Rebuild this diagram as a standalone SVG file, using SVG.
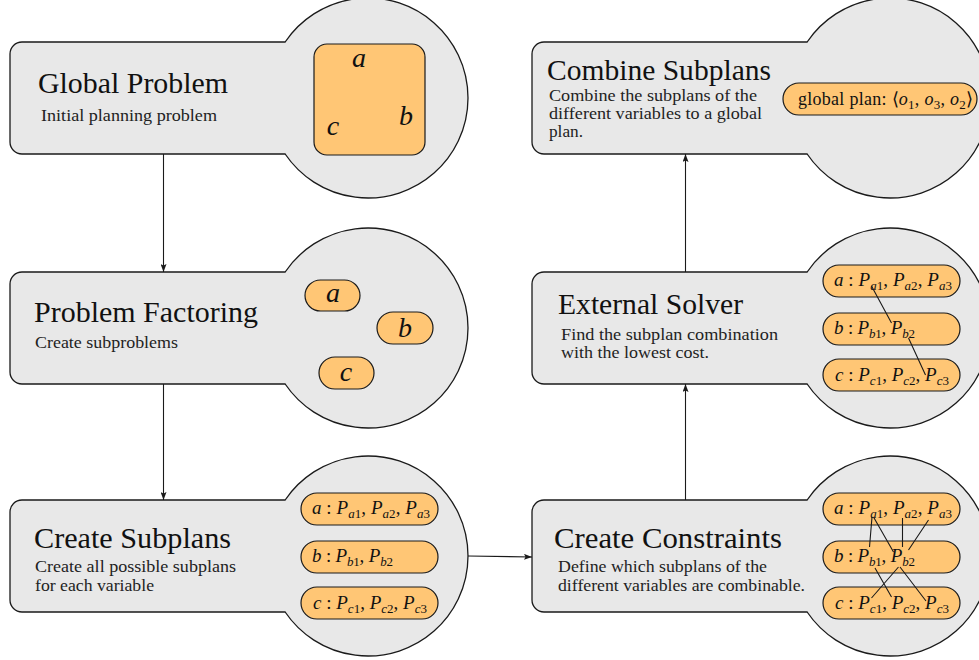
<svg xmlns="http://www.w3.org/2000/svg" xmlns:xlink="http://www.w3.org/1999/xlink" width="979" height="660" viewBox="0 0 979 660">
<style>
.shape{fill:#e8e8e8;stroke:#1a1a1a;stroke-width:1.3}
.pill{fill:#ffc675;stroke:#1a1a1a;stroke-width:1.2}
.t{font-family:"Liberation Serif","Times New Roman",serif;font-size:29px;fill:#111}
.s{font-family:"Liberation Serif","Times New Roman",serif;font-size:17px;fill:#222}
.m{font-family:"Liberation Serif","Times New Roman",serif;font-size:19px;fill:#111}
.i{font-style:italic}
.sub{font-size:13px}
.big{font-family:"Liberation Serif","Times New Roman",serif;font-size:28px;font-style:italic;fill:#111}
.edge{stroke:#1a1a1a;stroke-width:1.1;fill:none}
.cl{stroke:#1a1a1a;stroke-width:1.1;fill:none}
</style>
<defs>
<path id="node" d="M12,0 H275.15 A100,100 0 1 1 275.15,112 H12 A12,12 0 0 1 0,100 V12 A12,12 0 0 1 12,0 Z"/>
<marker id="arr" viewBox="0 0 8 6" refX="8" refY="3" markerWidth="8" markerHeight="6" markerUnits="userSpaceOnUse" orient="auto">
<path d="M0,0 L8,3 L0,6 L1.5,3 Z" fill="#1a1a1a"/>
</marker>
</defs>

<g id="edges">
<path class="edge" d="M163.5,154 V272" marker-end="url(#arr)"/>
<path class="edge" d="M163.5,384 V500" marker-end="url(#arr)"/>
<path class="edge" d="M468,556 L532,557" marker-end="url(#arr)"/>
<path class="edge" d="M685.5,500 V384" marker-end="url(#arr)"/>
<path class="edge" d="M685.5,272 V154" marker-end="url(#arr)"/>
</g>

<g id="global-problem">
<use xlink:href="#node" href="#node" class="shape" x="10" y="42"/>
<text class="t" x="38" y="93" textLength="190" lengthAdjust="spacingAndGlyphs">Global Problem</text>
<text class="s" x="41" y="121" textLength="176" lengthAdjust="spacingAndGlyphs">Initial planning problem</text>
<rect class="pill" x="314" y="44" width="111" height="111" rx="13"/>
<text class="big" x="359" y="67" text-anchor="middle">a</text>
<text class="big" x="406" y="125" text-anchor="middle">b</text>
<text class="big" x="333" y="135" text-anchor="middle">c</text>
</g>

<g id="problem-factoring">
<use xlink:href="#node" href="#node" class="shape" x="10" y="272"/>
<text class="t" x="34" y="322" textLength="224" lengthAdjust="spacingAndGlyphs">Problem Factoring</text>
<text class="s" x="35" y="348" textLength="143" lengthAdjust="spacingAndGlyphs">Create subproblems</text>
<rect class="pill" x="305" y="280" width="55" height="31" rx="15.5"/>
<rect class="pill" x="377" y="312" width="56" height="32" rx="16"/>
<rect class="pill" x="319" y="357" width="55" height="32" rx="16"/>
<text class="big" x="333" y="302" text-anchor="middle">a</text>
<text class="big" x="405" y="337" text-anchor="middle">b</text>
<text class="big" x="346" y="381" text-anchor="middle">c</text>
</g>

<g id="create-subplans">
<use xlink:href="#node" href="#node" class="shape" x="10" y="500"/>
<text class="t" x="34" y="548" textLength="197" lengthAdjust="spacingAndGlyphs">Create Subplans</text>
<text class="s" x="35" y="572" textLength="201" lengthAdjust="spacingAndGlyphs">Create all possible subplans</text>
<text class="s" x="35" y="591" textLength="119" lengthAdjust="spacingAndGlyphs">for each variable</text>
<rect class="pill" x="301" y="493" width="137" height="32" rx="16"/>
<rect class="pill" x="301" y="541" width="137" height="32" rx="16"/>
<rect class="pill" x="301" y="587" width="137" height="32" rx="16"/>
<text class="m" x="312" y="514" textLength="118"><tspan class="i">a</tspan> : <tspan class="i">P</tspan><tspan class="sub i" dy="4">a</tspan><tspan class="sub">1</tspan><tspan dy="-4">, </tspan><tspan class="i">P</tspan><tspan class="sub i" dy="4">a</tspan><tspan class="sub">2</tspan><tspan dy="-4">, </tspan><tspan class="i">P</tspan><tspan class="sub i" dy="4">a</tspan><tspan class="sub">3</tspan></text>
<text class="m" x="312" y="562" textLength="81"><tspan class="i">b</tspan> : <tspan class="i">P</tspan><tspan class="sub i" dy="4">b</tspan><tspan class="sub">1</tspan><tspan dy="-4">, </tspan><tspan class="i">P</tspan><tspan class="sub i" dy="4">b</tspan><tspan class="sub">2</tspan></text>
<text class="m" x="313" y="609" textLength="114"><tspan class="i">c</tspan> : <tspan class="i">P</tspan><tspan class="sub i" dy="4">c</tspan><tspan class="sub">1</tspan><tspan dy="-4">, </tspan><tspan class="i">P</tspan><tspan class="sub i" dy="4">c</tspan><tspan class="sub">2</tspan><tspan dy="-4">, </tspan><tspan class="i">P</tspan><tspan class="sub i" dy="4">c</tspan><tspan class="sub">3</tspan></text>
</g>

<g id="combine-subplans">
<use xlink:href="#node" href="#node" class="shape" x="532" y="42"/>
<text class="t" x="547" y="80" textLength="224" lengthAdjust="spacingAndGlyphs">Combine Subplans</text>
<text class="s" x="549" y="101" textLength="208" lengthAdjust="spacingAndGlyphs" style="font-size:16px">Combine the subplans of the</text>
<text class="s" x="549" y="119" textLength="213" lengthAdjust="spacingAndGlyphs" style="font-size:16px">different variables to a global</text>
<text class="s" x="549" y="137" textLength="34" lengthAdjust="spacingAndGlyphs" style="font-size:16px">plan.</text>
<rect class="pill" x="783" y="83" width="194" height="32" rx="16"/>
<text class="m" x="798" y="105" textLength="175" style="font-size:18px">global plan: ⟨<tspan class="i">o</tspan><tspan class="sub" dy="4">1</tspan><tspan dy="-4">, </tspan><tspan class="i">o</tspan><tspan class="sub" dy="4">3</tspan><tspan dy="-4">, </tspan><tspan class="i">o</tspan><tspan class="sub" dy="4">2</tspan><tspan dy="-4">⟩</tspan></text>
</g>

<g id="external-solver">
<use xlink:href="#node" href="#node" class="shape" x="532" y="272"/>
<text class="t" x="558" y="314" textLength="185" lengthAdjust="spacingAndGlyphs">External Solver</text>
<text class="s" x="561" y="340" textLength="217" lengthAdjust="spacingAndGlyphs">Find the subplan combination</text>
<text class="s" x="561" y="358" textLength="148" lengthAdjust="spacingAndGlyphs">with the lowest cost.</text>
<rect class="pill" x="823" y="265" width="137" height="32" rx="16"/>
<rect class="pill" x="823" y="313" width="137" height="32" rx="16"/>
<rect class="pill" x="823" y="359" width="137" height="32" rx="16"/>
<text class="m" x="834" y="286" textLength="118"><tspan class="i">a</tspan> : <tspan class="i">P</tspan><tspan class="sub i" dy="4">a</tspan><tspan class="sub">1</tspan><tspan dy="-4">, </tspan><tspan class="i">P</tspan><tspan class="sub i" dy="4">a</tspan><tspan class="sub">2</tspan><tspan dy="-4">, </tspan><tspan class="i">P</tspan><tspan class="sub i" dy="4">a</tspan><tspan class="sub">3</tspan></text>
<text class="m" x="834" y="334" textLength="81"><tspan class="i">b</tspan> : <tspan class="i">P</tspan><tspan class="sub i" dy="4">b</tspan><tspan class="sub">1</tspan><tspan dy="-4">, </tspan><tspan class="i">P</tspan><tspan class="sub i" dy="4">b</tspan><tspan class="sub">2</tspan></text>
<text class="m" x="835" y="381" textLength="114"><tspan class="i">c</tspan> : <tspan class="i">P</tspan><tspan class="sub i" dy="4">c</tspan><tspan class="sub">1</tspan><tspan dy="-4">, </tspan><tspan class="i">P</tspan><tspan class="sub i" dy="4">c</tspan><tspan class="sub">2</tspan><tspan dy="-4">, </tspan><tspan class="i">P</tspan><tspan class="sub i" dy="4">c</tspan><tspan class="sub">3</tspan></text>
<path class="cl" d="M871.5,286 L891.5,323 M908.5,338 L925.5,375"/>
</g>

<g id="create-constraints">
<use xlink:href="#node" href="#node" class="shape" x="532" y="500"/>
<text class="t" x="554" y="548" textLength="228" lengthAdjust="spacingAndGlyphs">Create Constraints</text>
<text class="s" x="558" y="572" textLength="209" lengthAdjust="spacingAndGlyphs">Define which subplans of the</text>
<text class="s" x="558" y="591" textLength="247" lengthAdjust="spacingAndGlyphs">different variables are combinable.</text>
<rect class="pill" x="823" y="493" width="137" height="32" rx="16"/>
<rect class="pill" x="823" y="541" width="137" height="32" rx="16"/>
<rect class="pill" x="823" y="587" width="137" height="32" rx="16"/>
<text class="m" x="834" y="514" textLength="118"><tspan class="i">a</tspan> : <tspan class="i">P</tspan><tspan class="sub i" dy="4">a</tspan><tspan class="sub">1</tspan><tspan dy="-4">, </tspan><tspan class="i">P</tspan><tspan class="sub i" dy="4">a</tspan><tspan class="sub">2</tspan><tspan dy="-4">, </tspan><tspan class="i">P</tspan><tspan class="sub i" dy="4">a</tspan><tspan class="sub">3</tspan></text>
<text class="m" x="834" y="562" textLength="81"><tspan class="i">b</tspan> : <tspan class="i">P</tspan><tspan class="sub i" dy="4">b</tspan><tspan class="sub">1</tspan><tspan dy="-4">, </tspan><tspan class="i">P</tspan><tspan class="sub i" dy="4">b</tspan><tspan class="sub">2</tspan></text>
<text class="m" x="835" y="609" textLength="114"><tspan class="i">c</tspan> : <tspan class="i">P</tspan><tspan class="sub i" dy="4">c</tspan><tspan class="sub">1</tspan><tspan dy="-4">, </tspan><tspan class="i">P</tspan><tspan class="sub i" dy="4">c</tspan><tspan class="sub">2</tspan><tspan dy="-4">, </tspan><tspan class="i">P</tspan><tspan class="sub i" dy="4">c</tspan><tspan class="sub">3</tspan></text>
<path class="cl" d="M872,517 L869.5,547 M873.5,517 L893.5,552 M902.5,518 V547 M928.5,520 L908.5,550 M875,568 L891.5,597 M898.5,567 L871.5,598 M900,567 L926,601"/>
</g>
</svg>
